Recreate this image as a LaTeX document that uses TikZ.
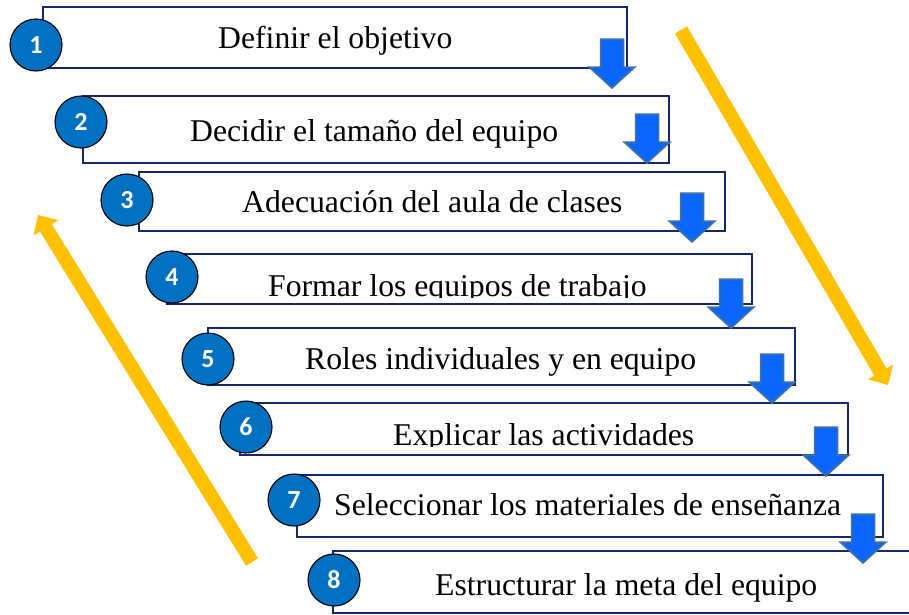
\documentclass[tikz,border=0pt]{standalone}
\usepackage{fontspec}
\setmainfont{Liberation Serif}
\newfontfamily\numfont{Carlito}
\usetikzlibrary{arrows.meta}
\definecolor{boxline}{HTML}{13296B}
\definecolor{cblue}{HTML}{0070C0}
\definecolor{afill}{HTML}{0A66FF}
\definecolor{aline}{HTML}{41719C}
\definecolor{ygold}{HTML}{FFC000}
\tikzset{
  stepbox/.style={draw=boxline, line width=2.6pt, fill=white, rectangle, inner sep=0pt},
  numc/.style={circle, fill=cblue, draw=black, line width=1.1pt, minimum size=52pt, inner sep=0pt, text=white, font=\numfont\bfseries\fontsize{26}{26}\selectfont},
  lbl/.style={anchor=base west, inner sep=0pt, font=\fontsize{31.7}{38}\selectfont},
  blockarr/.style={fill=afill, draw=aline, line width=1.5pt, line join=miter},
  yarrow/.style={draw=ygold, line width=14pt, -{Triangle[length=15pt,width=28pt]}},
  downarr/.pic={\path[blockarr] (-11.5,0) -- (11.5,0) -- (11.5,28) -- (23,28) -- (0,49) -- (-23,28) -- (-11.5,28) -- cycle;}
}
\begin{document}
\begin{tikzpicture}[x=1pt,y=-1pt]
\useasboundingbox (0,0) rectangle (909,614);
\clip (0,0) rectangle (909,614);
% boxes
\node[stepbox, minimum width=584pt, minimum height=61pt] (b1) at (335,37.5) {};
\node[stepbox, minimum width=586pt, minimum height=67pt] (b2) at (376,129.5) {};
\node[stepbox, minimum width=586pt, minimum height=59pt] (b3) at (432,201.5) {};
\node[stepbox, minimum width=585pt, minimum height=50pt] (b4) at (459.5,279) {};
\node[stepbox, minimum width=587pt, minimum height=57pt] (b5) at (501.5,356.5) {};
\node[stepbox, minimum width=608pt, minimum height=52pt] (b6) at (544,429) {};
\node[stepbox, minimum width=586pt, minimum height=62pt] (b7) at (590,506) {};
\node[stepbox, minimum width=607pt, minimum height=62pt] (b8) at (636.5,582) {};
% labels
\node[lbl] (t1) at (218,48) {Definir el objetivo};
\node[lbl] (t2) at (190,141) {Decidir el tamaño del equipo};
\node[lbl] (t3) at (242,212) {Adecuación del aula de clases};
\begin{scope}
\clip (0,240) rectangle (909,297);
\node[lbl] (t4) at (268,296) {Formar los equipos de trabajo};
\end{scope}
\node[lbl] (t5) at (305,369) {Roles individuales y en equipo};
\begin{scope}
\clip (0,390) rectangle (909,446.5);
\node[lbl] (t6) at (393,445) {Explicar las actividades};
\end{scope}
\node[lbl] (t7) at (334,515) {Seleccionar los materiales de enseñanza};
\node[lbl] (t8) at (435,595) {Estructurar la meta del equipo};
% block arrows
\pic at (612,39) {downarr};
\pic at (647,114) {downarr};
\pic at (692,193) {downarr};
\pic at (731,279) {downarr};
\pic at (772,354) {downarr};
\pic at (826,427) {downarr};
\pic at (863,514) {downarr};
% number circles
\node[numc] (c1) at (36,45) {\raisebox{-3pt}{1}};
\node[numc] (c2) at (81,122) {\raisebox{-3pt}{2}};
\node[numc] (c3) at (127,200) {\raisebox{-3pt}{3}};
\node[numc] (c4) at (172,277) {\raisebox{-3pt}{4}};
\node[numc] (c5) at (208,359) {\raisebox{-3pt}{5}};
\node[numc] (c6) at (246,427) {\raisebox{-3pt}{6}};
\node[numc] (c7) at (294,500) {\raisebox{-3pt}{7}};
\node[numc] (c8) at (334,580) {\raisebox{-3pt}{8}};
% yellow arrows
\coordinate (ra) at (681,30);
\coordinate (rb) at (888,385);
\coordinate (la) at (252,562);
\coordinate (lb) at (38,215);
\draw[yarrow] (ra) -- (rb);
\draw[yarrow] (la) -- (lb);
\end{tikzpicture}
\end{document}
